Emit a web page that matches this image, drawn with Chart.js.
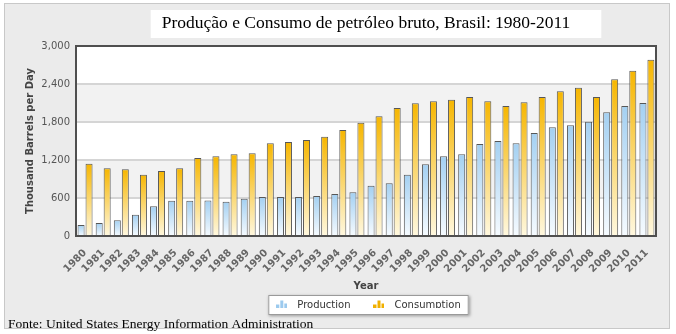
<!DOCTYPE html>
<html>
<head>
<meta charset="utf-8">
<script src="https://cdn.jsdelivr.net/npm/chart.js@4.4.1/dist/chart.umd.min.js"></script>
<style>
  html, body { margin: 0; padding: 0; background: #fff; }
</style>
</head>
<body>
<canvas id="chart" width="676" height="334"></canvas>
<script>
const years = ['1980', '1981', '1982', '1983', '1984', '1985', '1986', '1987', '1988', '1989',
    '1990', '1991', '1992', '1993', '1994', '1995', '1996', '1997', '1998', '1999',
    '2000', '2001', '2002', '2003', '2004', '2005', '2006', '2007', '2008', '2009', '2010', '2011']
const production = [174, 205, 248, 337, 469, 558, 558, 560, 542, 589,
    616, 616, 616, 632, 663, 690, 795, 832, 968, 1132,
    1258, 1290, 1453, 1500, 1464, 1626, 1716, 1748, 1805, 1953, 2053, 2100]
const consumption = [1142, 1069, 1053, 968, 1026, 1069, 1232, 1258, 1290, 1306,
    1464, 1484, 1516, 1568, 1674, 1789, 1890, 2021, 2095, 2126,
    2153, 2195, 2126, 2053, 2111, 2195, 2285, 2342, 2195, 2474, 2610, 2784]
const yTicks = [0, 600, 1200, 1800, 2400, 3000]
const seriesNames = ['Production', 'Consumption']
const titleText = 'Produção e Consumo de petróleo bruto, Brasil: 1980-2011'
const sourceText = 'Fonte: United States Energy Information Administration'
const yTitle = 'Thousand Barrels per Day'
const xTitle = 'Year'

Chart.defaults.font.family = '"DejaVu Sans", Verdana, sans-serif'
Chart.defaults.font.size = 10

// vertical gradient from the top of each bar down to the baseline
function barFill(top, bottom) {
    return ctx => {
        const chart = ctx.chart
        const area = chart.chartArea
        if (!area || ctx.type !== 'data') return top
        const y = chart.scales.y.getPixelForValue(ctx.raw)
        const g = chart.ctx.createLinearGradient(0, y, 0, area.bottom)
        g.addColorStop(0, top)
        g.addColorStop(1, bottom)
        return g
    }
}

// little bar-chart glyph used in the legend
function makeIcon(color) {
    const c = document.createElement('canvas')
    c.width = 11
    c.height = 11
    const g = c.getContext('2d')
    g.fillStyle = color
    ;[[0, 5], [4, 1], [8, 4]].forEach(([x, y]) => g.fillRect(x, y, 3, 11 - y))
    return c
}

const decor = {
    id: 'decor',
    beforeDraw(chart) {
        const { ctx, chartArea: a } = chart
        const y = chart.scales.y
        ctx.save()
        ctx.fillStyle = '#fff'
        ctx.fillRect(0, 0, chart.width, chart.height)
        ctx.fillStyle = '#ebebeb'
        ctx.fillRect(4, 3, 666, 326)
        ctx.strokeStyle = '#c8c8c8'
        ctx.lineWidth = 1
        ctx.strokeRect(4.5, 3.5, 665, 325)

        // white box behind the title
        const tb = chart.titleBlock
        const tf = Chart.helpers.toFont(tb.options.font)
        ctx.font = tf.string
        const tw = ctx.measureText(titleText).width
        const cx = (tb.left + tb.right) / 2
        ctx.fillStyle = '#fff'
        ctx.fillRect(cx - tw / 2 - 11, tb.top + 10, tw + 42, 28)

        // plot background with alternating bands
        ctx.fillRect(a.left, a.top, a.width, a.height)
        ctx.fillStyle = '#f2f2f2'
        for (let i = 1; i < yTicks.length - 1; i += 2) {
            const t = y.getPixelForValue(yTicks[i + 1])
            const b = y.getPixelForValue(yTicks[i])
            ctx.fillRect(a.left, t, a.width, b - t)
        }

        // legend frame
        const hb = chart.legend.legendHitBoxes
        if (hb && hb.length) {
            const last = hb[hb.length - 1]
            const l = hb[0].left - 3, r = last.left + last.width + 8
            const t = hb[0].top - 5, h = 20
            ctx.shadowColor = 'rgba(0,0,0,0.35)'
            ctx.shadowBlur = 3
            ctx.shadowOffsetX = 1
            ctx.shadowOffsetY = 1
            ctx.fillStyle = '#fff'
            ctx.fillRect(l, t, r - l, h)
            ctx.shadowColor = 'transparent'
            ctx.strokeStyle = '#9a9a9a'
            ctx.strokeRect(l + 0.5, t + 0.5, r - l - 1, h - 1)
        }
        ctx.restore()
    },
    afterDatasetsDraw(chart) {
        const { ctx, chartArea: a } = chart
        ctx.save()
        ctx.strokeStyle = '#4f4f4f'
        ctx.lineWidth = 2
        ctx.strokeRect(a.left, a.top, a.width, a.height)
        ctx.restore()
    },
    afterDraw(chart) {
        const ctx = chart.ctx
        ctx.save()
        ctx.font = '13.5px "Liberation Serif", "Times New Roman", serif'
        ctx.fillStyle = '#000'
        ctx.textBaseline = 'alphabetic'
        ctx.fillText(sourceText, 8, 328)
        ctx.restore()
    }
}

const ctx = document.getElementById('chart').getContext('2d')
new Chart(ctx, {
    type: 'bar',
    data: {
        labels: years,
        datasets: [{
            label: seriesNames[0],
            data: production,
            backgroundColor: barFill('#a3d0f2', '#f6fbff'),
            borderColor: '#575757',
            borderWidth: 1,
            pointStyle: makeIcon('#9ccaee'),
            categoryPercentage: 0.88,
            barPercentage: 0.88
        }, {
            label: seriesNames[1],
            data: consumption,
            backgroundColor: barFill('#f6b600', '#fff8e0'),
            borderColor: '#575757',
            borderWidth: 1,
            pointStyle: makeIcon('#f0b000'),
            categoryPercentage: 0.88,
            barPercentage: 0.88
        }]
    },
    options: {
        responsive: false,
        animation: false,
        layout: { padding: { left: 8, right: 20, top: 0, bottom: 26 } },
        plugins: {
            title: {
                display: true,
                text: titleText,
                fullSize: false,
                color: '#000',
                font: { family: '"Liberation Serif", "Times New Roman", serif', size: 17.5, weight: 'normal' },
                padding: { top: 13, bottom: 12 }
            },
            legend: {
                position: 'bottom',
                fullSize: false,
                maxHeight: 26,
                labels: {
                    usePointStyle: true,
                    pointStyleWidth: 21,
                    padding: 18,
                    color: '#333',
                    font: { size: 10 }
                }
            },
            tooltip: { enabled: false }
        },
        scales: {
            x: {
                grid: { display: false },
                border: { display: false },
                ticks: {
                    autoSkip: false,
                    minRotation: 45,
                    maxRotation: 45,
                    padding: 3,
                    color: '#666',
                    font: { size: 10, weight: 'bold' }
                },
                title: {
                    display: true,
                    text: xTitle,
                    color: '#444',
                    font: { size: 10, weight: 'bold' },
                    padding: { top: 0, bottom: -10 }
                },
                afterFit: s => { s.height = 46 }
            },
            y: {
                min: 0,
                max: 3000,
                border: { display: false },
                grid: { color: '#d5d5d5', lineWidth: 2, drawTicks: false },
                ticks: {
                    stepSize: 600,
                    padding: 6,
                    color: '#555',
                    font: { size: 10 }
                },
                title: {
                    display: true,
                    text: yTitle,
                    color: '#444',
                    font: { size: 10, weight: 'bold' },
                    padding: { top: 16, bottom: 0 }
                },
                afterFit: s => { s.width = 68 }
            }
        }
    },
    plugins: [decor]
})
</script>
</body>
</html>
